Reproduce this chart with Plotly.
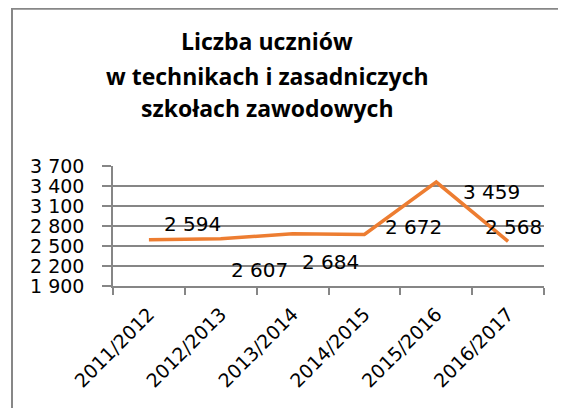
import plotly.graph_objects as go

# ---- data ----
categories = ["2011/2012", "2012/2013", "2013/2014", "2014/2015", "2015/2016", "2016/2017"]
values = [2594, 2607, 2684, 2672, 3459, 2568]
y_ticks = [1900, 2200, 2500, 2800, 3100, 3400, 3700]
title_lines = ["Liczba uczniów", "w technikach i zasadniczych", "szkołach zawodowych"]

# label offsets (px) relative to each data point, as placed in the original
label_dx = [44, 39, 38, 49, 55, 5]
label_dy = [16, -31, -28, 8, -10, 14]

# the page body adds an 8px margin on every side; keep the page inside the window
OFF = 8
WIN_W, WIN_H = 567, 418
W, H = 550, 400
# plot area in window pixels: x 113..544, y 166..286
ML = 113 - OFF
MT = 166 - OFF
MR = W - (544 - OFF)
MB = H - (286 - OFF)
pw = W - ML - MR
ph = H - MT - MB

GRAY = "#868686"
ORANGE = "#ED7D31"

def fmt(v):
    return f"{v:,}".replace(",", " ")

fig = go.Figure()
fig.add_trace(go.Scatter(
    x=categories, y=values, mode="lines",
    line=dict(color=ORANGE, width=3.5),
    hoverinfo="skip", showlegend=False,
))

annotations = []
for c, v, dx, dy in zip(categories, values, label_dx, label_dy):
    annotations.append(dict(
        x=c, y=v, xref="x", yref="y", text=fmt(v), showarrow=False,
        xshift=dx, yshift=dy, xanchor="center", yanchor="middle",
        font=dict(family="DejaVu Sans", size=20, color="#000000"),
    ))

def px_to_paper_x(p):
    # p in window pixels
    return (p - OFF - ML) / pw

def px_to_paper_y(p):
    return (H - MB - (p - OFF)) / ph

title_y_px = [41, 76, 108]
for line, ypx in zip(title_lines, title_y_px):
    annotations.append(dict(
        x=px_to_paper_x(267), y=px_to_paper_y(ypx), xref="paper", yref="paper",
        text=f"<b>{line}</b>", showarrow=False, xanchor="center", yanchor="middle",
        font=dict(family="Open Sans", size=23, color="#000000"),
    ))

border = dict(color="#878787", width=2)
shapes = [
    # top edge of the chart frame (stops at the figure edge)
    dict(type="line", xref="paper", yref="paper", layer="below",
         x0=px_to_paper_x(11), x1=px_to_paper_x(OFF + W),
         y0=px_to_paper_y(8.7), y1=px_to_paper_y(8.7), line=border),
    # left edge of the chart frame (stops at the figure edge)
    dict(type="line", xref="paper", yref="paper", layer="below",
         x0=px_to_paper_x(12), x1=px_to_paper_x(12),
         y0=px_to_paper_y(7.7), y1=px_to_paper_y(OFF + H), line=border),
]

fig.update_layout(
    width=W, height=H,
    margin=dict(l=ML, r=MR, t=MT, b=MB, pad=0),
    paper_bgcolor="white", plot_bgcolor="white",
    separators=", ",
    annotations=annotations,
    shapes=shapes,
    xaxis=dict(
        type="category", range=[-0.5, 5.5],
        showgrid=False, zeroline=False,
        showline=True, linecolor=GRAY, linewidth=1.5,
        ticks="outside", tickson="boundaries", ticklen=7, tickcolor=GRAY, tickwidth=1.5,
        tickangle=-45, ticklabelstandoff=8,
        tickfont=dict(family="DejaVu Sans", size=19, color="#000000"),
        fixedrange=True,
    ),
    yaxis=dict(
        range=[1900, 3700], tickvals=y_ticks, ticktext=[fmt(t) for t in y_ticks],
        showgrid=True, gridcolor=GRAY, gridwidth=1.5,
        zeroline=False,
        showline=True, linecolor=GRAY, linewidth=1.5,
        ticks="outside", ticklen=9, tickcolor=GRAY, tickwidth=1.5,
        ticklabelstandoff=14,
        tickfont=dict(family="DejaVu Sans", size=19, color="#000000"),
        fixedrange=True,
    ),
)

fig.write_html("out.html")
